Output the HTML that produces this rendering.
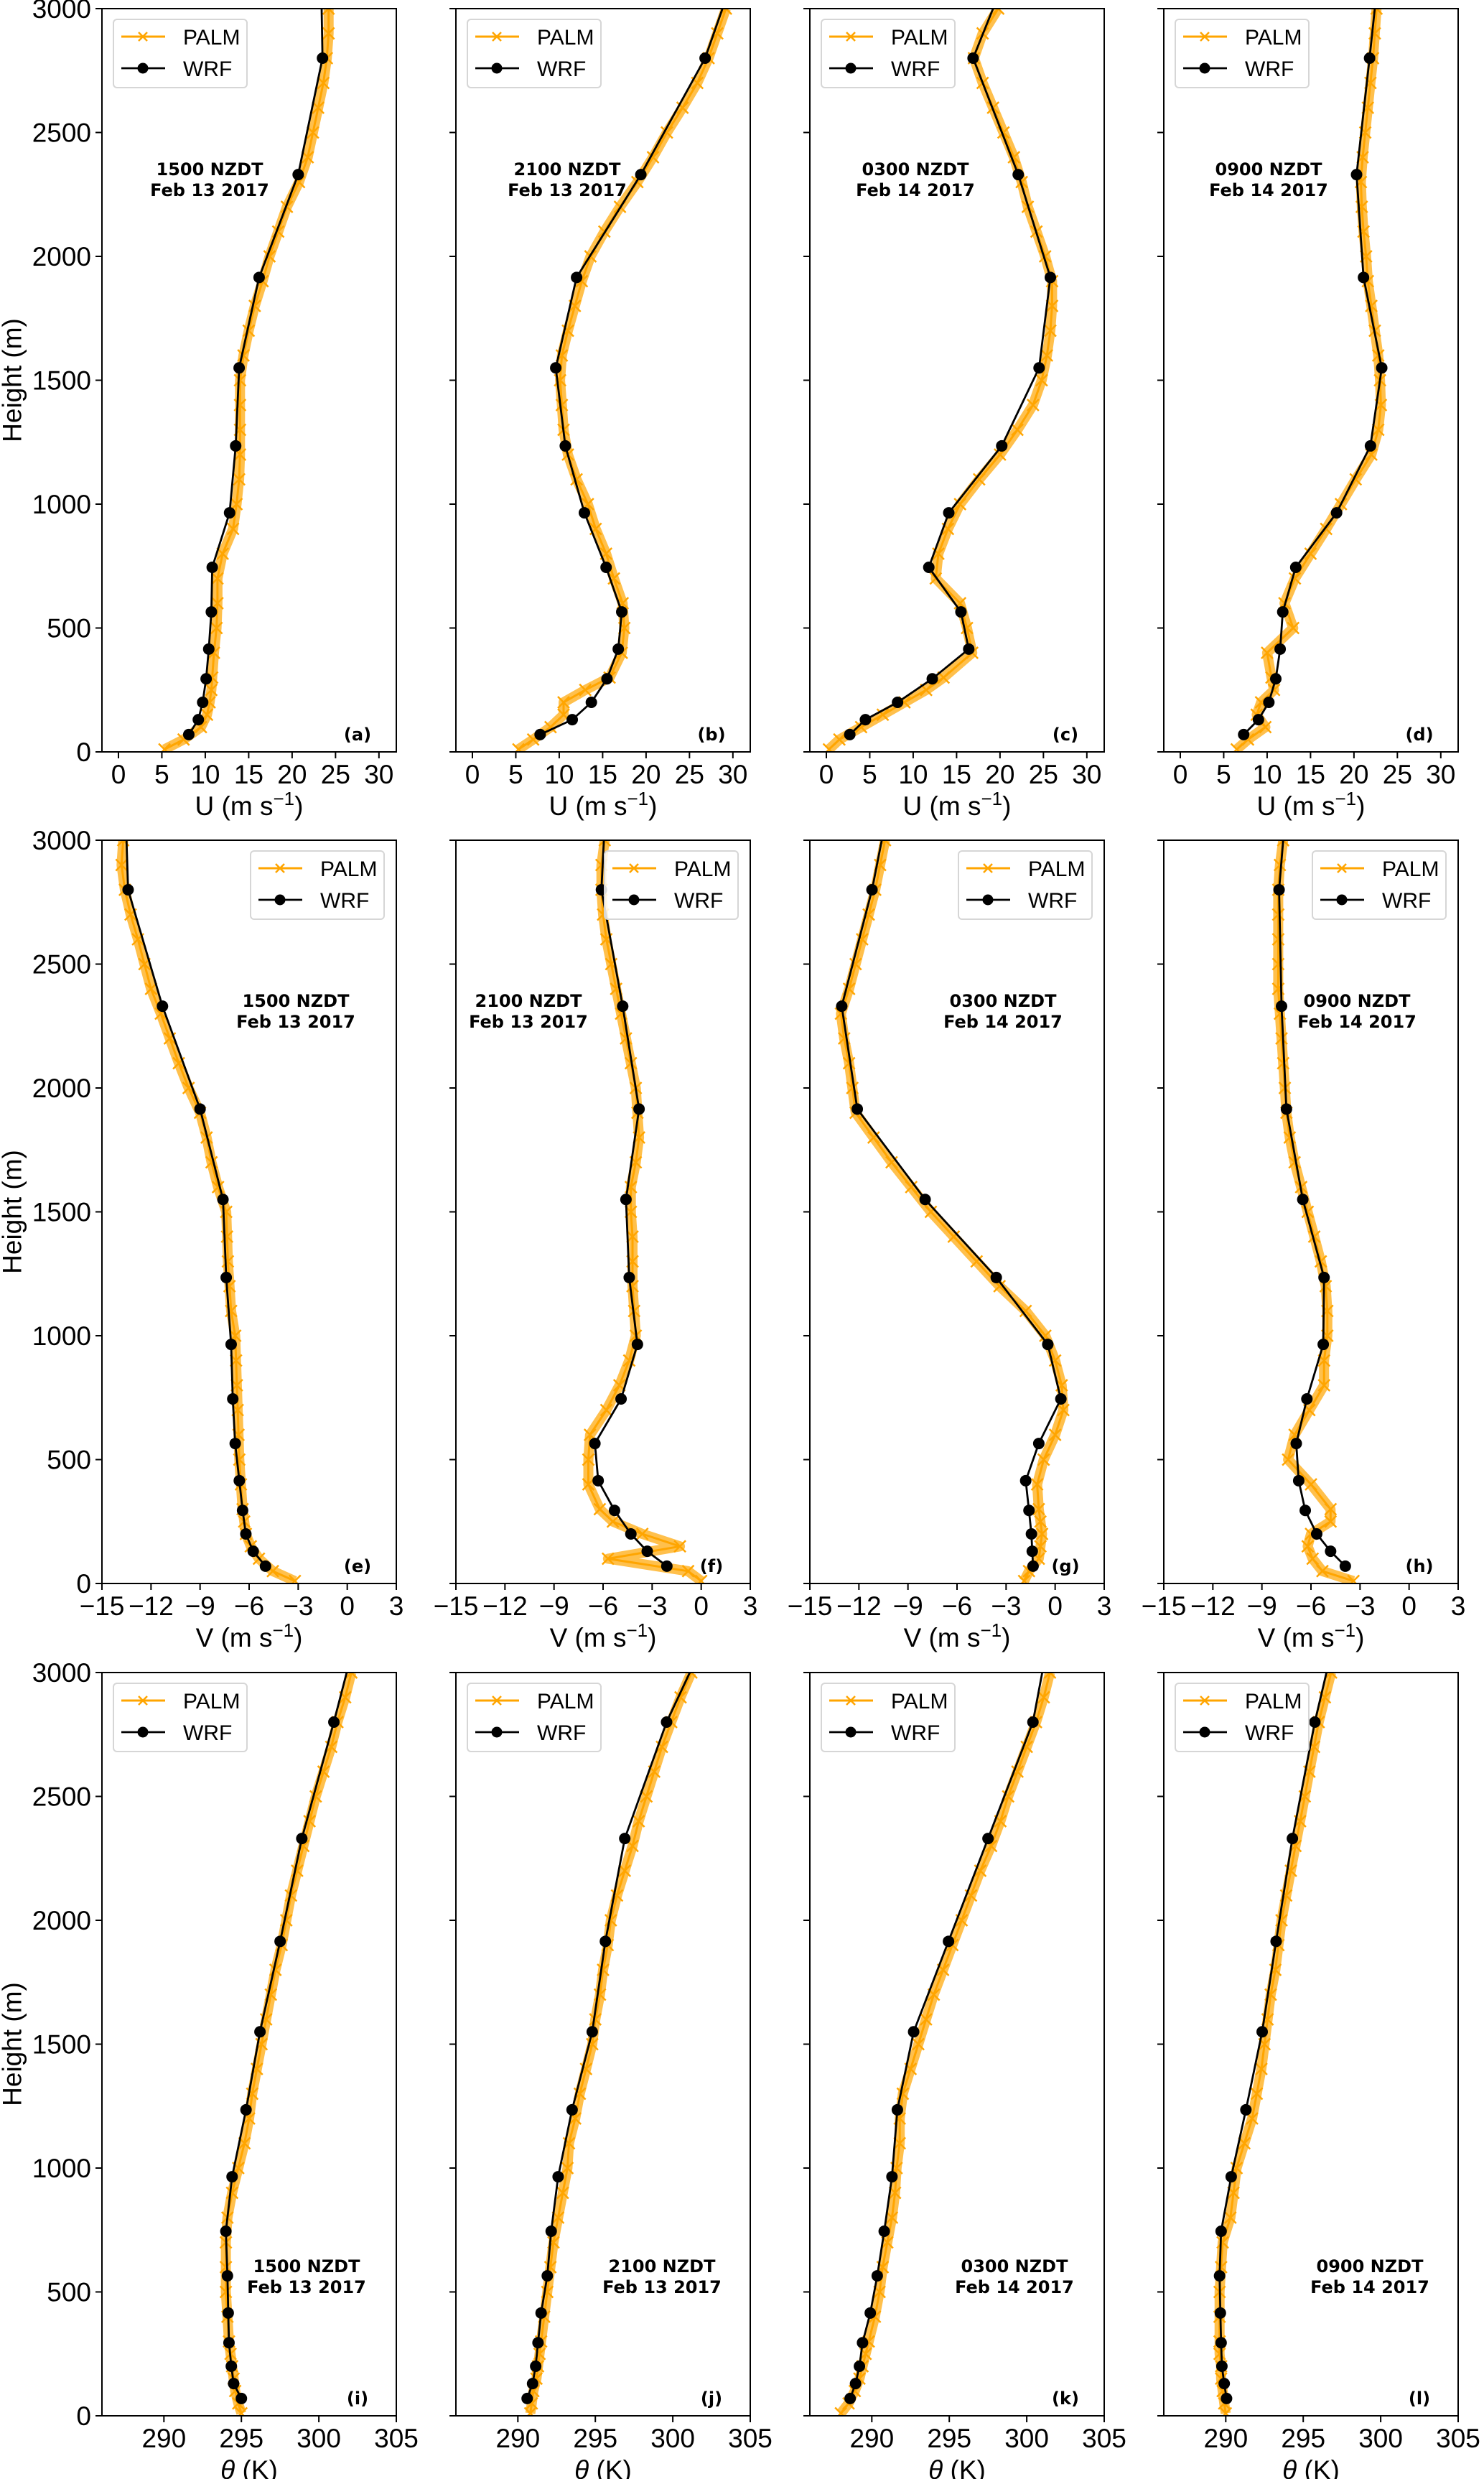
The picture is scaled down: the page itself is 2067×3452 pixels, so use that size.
<!DOCTYPE html>
<html><head><meta charset="utf-8"><title>PALM vs WRF profiles</title>
<style>
html,body{margin:0;padding:0;background:#fff;}
svg{display:block;}
text{font-family:"Liberation Sans","DejaVu Sans",sans-serif;fill:#000;}
.tick{font-size:37px;}
.alab{font-size:37px;}
.leg{font-size:30px;}
.ann{font-family:"DejaVu Sans","Liberation Sans",sans-serif;font-weight:bold;font-size:24px;}
.plab{font-family:"DejaVu Sans","Liberation Sans",sans-serif;font-weight:bold;font-size:24px;}
</style></head>
<body>
<svg id="fig" xmlns="http://www.w3.org/2000/svg" width="2067" height="3452" viewBox="0 0 2067 3452">
<rect x="0" y="0" width="2067" height="3452" fill="#fff"/>
</svg>
<script>
// ---- shared heights ----
const wrfHeights = [70,130,200,295,415,565,745,965,1235,1550,1915,2330,2800,3000];
const palmHeights = [10,50,100,150,200,250,300,400,500,600,700,800,900,1000,1100,1200,1300,1400,1500,1600,1700,1800,1900,2000,2100,2200,2300,2400,2500,2600,2700,2800,2900,3000];
const yTicks = [0,500,1000,1500,2000,2500,3000];
const uTicks = [0,5,10,15,20,25,30];
const vTicks = [-15,-12,-9,-6,-3,0,3];
const thTicks = [290,295,300,305];
const annTimes = ["1500 NZDT","2100 NZDT","0300 NZDT","0900 NZDT"];
const annDates = ["Feb 13 2017","Feb 13 2017","Feb 14 2017","Feb 14 2017"];
const panelLetters = ["(a)","(b)","(c)","(d)","(e)","(f)","(g)","(h)","(i)","(j)","(k)","(l)"];

// ---- U (m/s) ----
const uWrfA = [8.1,9.2,9.7,10.1,10.4,10.7,10.8,12.8,13.5,13.9,16.2,20.7,23.5,23.4];
const uPalmA = [5.3,7.5,9.5,10.2,10.5,10.7,10.8,11.0,11.3,11.4,11.4,12.0,13.2,13.6,13.9,14.0,14.0,14.0,14.0,14.4,15.0,15.7,16.6,17.4,18.4,19.4,20.8,21.8,22.4,23.0,23.6,24.0,24.2,24.2];
const uWrfB = [7.8,11.5,13.7,15.5,16.8,17.2,15.4,12.9,10.7,9.6,12.0,19.4,26.8,28.8];
const uPalmB = [5.3,7.0,9.0,10.5,10.5,13.0,15.8,17.2,17.5,17.3,16.3,15.4,14.2,13.3,12.0,11.0,10.5,10.3,10.1,10.3,11.0,11.8,12.6,13.6,15.2,17.0,19.0,20.8,22.4,24.2,25.9,27.2,28.2,29.2];
const uWrfC = [2.7,4.5,8.2,12.2,16.4,15.5,11.8,14.1,20.2,24.5,25.8,22.1,16.9,19.2];
const uPalmC = [0.3,1.5,4.0,6.5,9.0,11.5,13.5,16.8,16.2,15.4,12.6,12.9,14.0,15.4,17.6,20.0,22.0,23.8,24.8,25.4,25.8,26.0,26.0,25.2,24.2,23.2,22.5,21.6,20.4,19.2,18.0,17.0,18.0,19.8];
const uWrfD = [7.3,9.0,10.2,11.0,11.5,11.8,13.3,18.0,21.9,23.2,21.1,20.3,21.8,22.4];
const uPalmD = [6.5,7.8,9.8,8.8,9.3,10.8,10.5,10.0,13.0,12.0,13.2,15.0,16.8,18.5,20.2,22.0,22.8,23.1,23.0,22.8,22.4,22.0,21.6,21.4,21.1,20.9,20.8,21.0,21.3,21.6,21.9,22.2,22.4,22.6];

// ---- V (m/s) ----
const vWrfE = [-5.0,-5.75,-6.2,-6.4,-6.6,-6.85,-7.0,-7.1,-7.4,-7.6,-9.0,-11.3,-13.4,-13.5];
const vPalmE = [-3.2,-4.55,-5.4,-5.9,-6.2,-6.3,-6.4,-6.5,-6.6,-6.65,-6.7,-6.75,-6.8,-6.85,-7.1,-7.2,-7.3,-7.35,-7.4,-7.9,-8.3,-8.6,-9.0,-9.7,-10.3,-10.85,-11.4,-12.0,-12.4,-12.8,-13.25,-13.6,-13.8,-13.7];
const vWrfF = [-2.1,-3.3,-4.3,-5.3,-6.3,-6.5,-4.9,-3.9,-4.4,-4.6,-3.8,-4.8,-6.1,-5.95];
const vPalmF = [0.0,-0.8,-5.7,-1.3,-3.6,-5.4,-6.2,-6.9,-6.9,-6.8,-5.8,-5.0,-4.4,-4.0,-4.1,-4.2,-4.2,-4.2,-4.3,-4.3,-4.0,-3.8,-3.9,-4.0,-4.3,-4.6,-4.9,-5.2,-5.5,-5.8,-6.0,-6.1,-6.1,-5.9];
const vWrfG = [-1.35,-1.4,-1.45,-1.6,-1.8,-1.0,0.35,-0.45,-3.6,-7.95,-12.1,-13.05,-11.2,-10.6];
const vPalmG = [-1.9,-1.6,-1.0,-0.9,-0.8,-0.9,-1.0,-1.1,-0.7,0.0,0.5,0.4,0.0,-0.6,-1.8,-3.4,-4.8,-6.2,-7.6,-8.8,-10.0,-11.1,-12.2,-12.4,-12.6,-12.9,-13.1,-12.6,-12.2,-11.8,-11.4,-11.0,-10.7,-10.4];
const vWrfH = [-3.9,-4.8,-5.65,-6.35,-6.75,-6.9,-6.25,-5.25,-5.2,-6.5,-7.5,-7.8,-7.95,-7.7];
const vPalmH = [-3.4,-5.3,-5.9,-6.2,-6.0,-4.8,-4.8,-6.0,-7.4,-7.0,-6.1,-5.2,-5.2,-5.0,-5.0,-5.1,-5.4,-5.8,-6.2,-6.6,-7.0,-7.3,-7.5,-7.6,-7.7,-7.8,-7.9,-8.0,-8.0,-8.0,-8.0,-8.0,-7.9,-7.7];

// ---- theta (K) ----
const thWrfI = [295.0,294.5,294.35,294.2,294.15,294.1,294.0,294.4,295.3,296.2,297.5,298.9,300.97,301.8];
const thPalmI = [295.0,294.8,294.6,294.5,294.4,294.3,294.2,294.1,294.0,294.0,294.0,294.1,294.4,294.8,295.2,295.5,295.7,296.0,296.3,296.6,296.9,297.2,297.6,297.9,298.2,298.6,299.0,299.4,299.8,300.3,300.8,301.2,301.7,302.1];
const thWrfJ = [290.6,290.95,291.15,291.3,291.5,291.9,292.15,292.6,293.5,294.8,295.65,296.9,299.6,301.1];
const thPalmJ = [290.8,290.9,291.0,291.2,291.3,291.4,291.5,291.7,291.9,292.1,292.3,292.6,292.9,293.2,293.3,293.7,294.0,294.4,294.8,295.0,295.3,295.5,295.8,296.0,296.4,296.9,297.4,297.8,298.3,298.8,299.3,299.9,300.5,301.2];
const thWrfK = [288.6,288.95,289.2,289.4,289.9,290.35,290.8,291.3,291.65,292.7,294.95,297.5,300.4,301.0];
const thPalmK = [288.0,288.5,288.9,289.2,289.4,289.6,289.8,290.2,290.5,290.7,291.0,291.3,291.5,291.6,291.8,291.8,292.0,292.5,293.0,293.5,294.0,294.6,295.2,295.8,296.4,297.0,297.7,298.3,298.8,299.4,300.0,300.6,301.1,301.5];
const thWrfL = [290.05,289.9,289.75,289.7,289.65,289.6,289.7,290.35,291.3,292.35,293.25,294.3,295.75,296.5];
const thPalmL = [290.0,289.9,289.8,289.7,289.7,289.6,289.6,289.6,289.6,289.7,289.8,290.3,290.5,290.7,291.2,291.7,292.0,292.3,292.5,292.7,292.9,293.2,293.4,293.6,293.9,294.2,294.5,294.8,295.1,295.4,295.7,296.0,296.4,296.8];

// ---- layout ----
const NS = "http://www.w3.org/2000/svg";
const svg = document.getElementById("fig");
const colLeft = [142, 635, 1128, 1621];
const rowTop = [12, 1170, 2329];
const AW = 410, AH = 1035;
const YMAX = 3000;

function mk(tag, attrs, parent) {
  const e = document.createElementNS(NS, tag);
  for (const k in attrs) e.setAttribute(k, attrs[k]);
  (parent || svg).appendChild(e);
  return e;
}

const rows = [
  {kind:"u", xmin:-1.9, xmax:32, ticks:uTicks, wrf:[uWrfA,uWrfB,uWrfC,uWrfD], palm:[uPalmA,uPalmB,uPalmC,uPalmD],
   annX:[150,155,147,146], annY:224, legRight:false},
  {kind:"v", xmin:-15, xmax:3, ticks:vTicks, wrf:[vWrfE,vWrfF,vWrfG,vWrfH], palm:[vPalmE,vPalmF,vPalmG,vPalmH],
   annX:[270,101,269,269], annY:224, legRight:true},
  {kind:"t", xmin:286, xmax:305, ticks:thTicks, wrf:[thWrfI,thWrfJ,thWrfK,thWrfL], palm:[thPalmI,thPalmJ,thPalmK,thPalmL],
   annX:[285,287,285,287], annY:827, legRight:false}
];

function fmt(v){ return v < 0 ? "\u2212" + Math.abs(v) : String(v); }

rows.forEach((row, ri) => {
  for (let ci = 0; ci < 4; ci++) {
    const L = colLeft[ci], T = rowTop[ri], B = T + AH, R = L + AW;
    const xs = v => L + (v - row.xmin) / (row.xmax - row.xmin) * AW;
    const ys = h => B - h / YMAX * AH;
    const idx = ri * 4 + ci;
    const g = mk("g", {});
    
    

    const clipId = "clip" + idx;
    const cp = mk("clipPath", {id: clipId}, g);
    mk("rect", {x: L, y: T, width: AW, height: AH}, cp);

    // PALM
    const pg = mk("g", {"clip-path": "url(#" + clipId + ")"}, g);
    
    
    const palm = row.palm[ci];
    let d = "";
    palm.forEach((v, i) => { d += (i ? "L" : "M") + xs(v).toFixed(1) + " " + ys(palmHeights[i]).toFixed(1); });
    mk("path", {d: d, fill: "none", stroke: "#FFA500", "stroke-width": 14, "stroke-opacity": 0.7, "stroke-linejoin": "round"}, pg);
    mk("path", {d: d, fill: "none", stroke: "#FFA500", "stroke-width": 3, "stroke-linejoin": "round"}, pg);
    palm.forEach((v, i) => {
      const x = xs(v), y = ys(palmHeights[i]), s = 8;
      const m = mk("path", {d: `M${x-s} ${y-s}L${x+s} ${y+s}M${x-s} ${y+s}L${x+s} ${y-s}`, stroke: "#FFA500", "stroke-width": 2.5}, pg);
      
      
    });

    // WRF
    const wg = mk("g", {"clip-path": "url(#" + clipId + ")"}, g);
    
    
    const wrf = row.wrf[ci];
    let d2 = "";
    wrf.forEach((v, i) => { d2 += (i ? "L" : "M") + xs(v).toFixed(1) + " " + ys(wrfHeights[i]).toFixed(1); });
    mk("path", {d: d2, fill: "none", stroke: "#000", "stroke-width": 2.8, "stroke-linejoin": "round"}, wg);
    wrf.forEach((v, i) => {
      if (wrfHeights[i] >= YMAX) return;
      const c = mk("circle", {cx: xs(v), cy: ys(wrfHeights[i]), r: 8, fill: "#000"}, wg);
      
      
    });

    // frame
    const fr = mk("rect", {x: L, y: T, width: AW, height: AH, fill: "none", stroke: "#000", "stroke-width": 2}, g);
    
    

    // y ticks
    yTicks.forEach(t => {
      const y = ys(t);
      mk("line", {x1: L - 9, x2: L, y1: y, y2: y, stroke: "#000", "stroke-width": 2}, g);
      if (ci === 0) {
        const tx = mk("text", {x: L - 15, y: y + 13, "text-anchor": "end", class: "tick"}, g);
        tx.textContent = String(t);
        
        
      }
    });
    // x ticks
    row.ticks.forEach(t => {
      const x = xs(t);
      mk("line", {x1: x, x2: x, y1: B, y2: B + 9, stroke: "#000", "stroke-width": 2}, g);
      const tx = mk("text", {x: x, y: B + 44, "text-anchor": "middle", class: "tick"}, g);
      tx.textContent = fmt(t);
      
      
    });

    // x-axis label
    const xl = mk("text", {x: L + AW / 2, y: B + 88, "text-anchor": "middle", class: "alab"}, g);
    
    
    if (row.kind === "t") {
      xl.innerHTML = '<tspan font-style="italic">\u03B8</tspan> (K)';
    } else {
      xl.innerHTML = (row.kind === "u" ? "U" : "V") + ' (m s<tspan dy="-14" font-size="26">\u22121</tspan><tspan dy="14">)</tspan>';
    }

    // y-axis label
    if (ci === 0) {
      const cy = T + AH / 2;
      const yl = mk("text", {x: 17, y: cy, "text-anchor": "middle", class: "alab", transform: `rotate(-90 17 ${cy})`, "dominant-baseline": "central"}, g);
      yl.textContent = "Height (m)";
      
      
    }

    // annotation
    const ax = L + row.annX[ci], ay = T + row.annY;
    const a1 = mk("text", {x: ax, y: ay + 8, "text-anchor": "middle", class: "ann"}, g);
    a1.textContent = annTimes[ci];
    
    
    const a2 = mk("text", {x: ax, y: ay + 37, "text-anchor": "middle", class: "ann"}, g);
    a2.textContent = annDates[ci];
    
    

    // panel letter
    const pl = mk("text", {x: R - 54, y: B - 16, "text-anchor": "middle", class: "plab"}, g);
    pl.textContent = panelLetters[idx];
    
    

    // legend
    const lx = row.legRight ? R - 17 - 186 : L + 16, ly = T + 15;
    const lg = mk("g", {}, g);
    
    
    mk("rect", {x: lx, y: ly, width: 186, height: 95, rx: 5, fill: "#fff", "fill-opacity": 0.85, stroke: "#d6d6d6", "stroke-width": 2}, lg);
    const r1 = ly + 24, r2 = ly + 68;
    mk("line", {x1: lx + 11, x2: lx + 72, y1: r1, y2: r1, stroke: "#FFA500", "stroke-width": 3}, lg);
    const mx = lx + 41;
    mk("path", {d: `M${mx-6} ${r1-6}L${mx+6} ${r1+6}M${mx-6} ${r1+6}L${mx+6} ${r1-6}`, stroke: "#FFA500", "stroke-width": 2.5}, lg);
    const t1 = mk("text", {x: lx + 97, y: r1 + 11, class: "leg"}, lg);
    t1.textContent = "PALM";
    
    
    mk("line", {x1: lx + 11, x2: lx + 72, y1: r2, y2: r2, stroke: "#000", "stroke-width": 2.8}, lg);
    mk("circle", {cx: mx, cy: r2, r: 7.5, fill: "#000"}, lg);
    const t2 = mk("text", {x: lx + 97, y: r2 + 11, class: "leg"}, lg);
    t2.textContent = "WRF";
    
    
  }
});
</script>
</body></html>
